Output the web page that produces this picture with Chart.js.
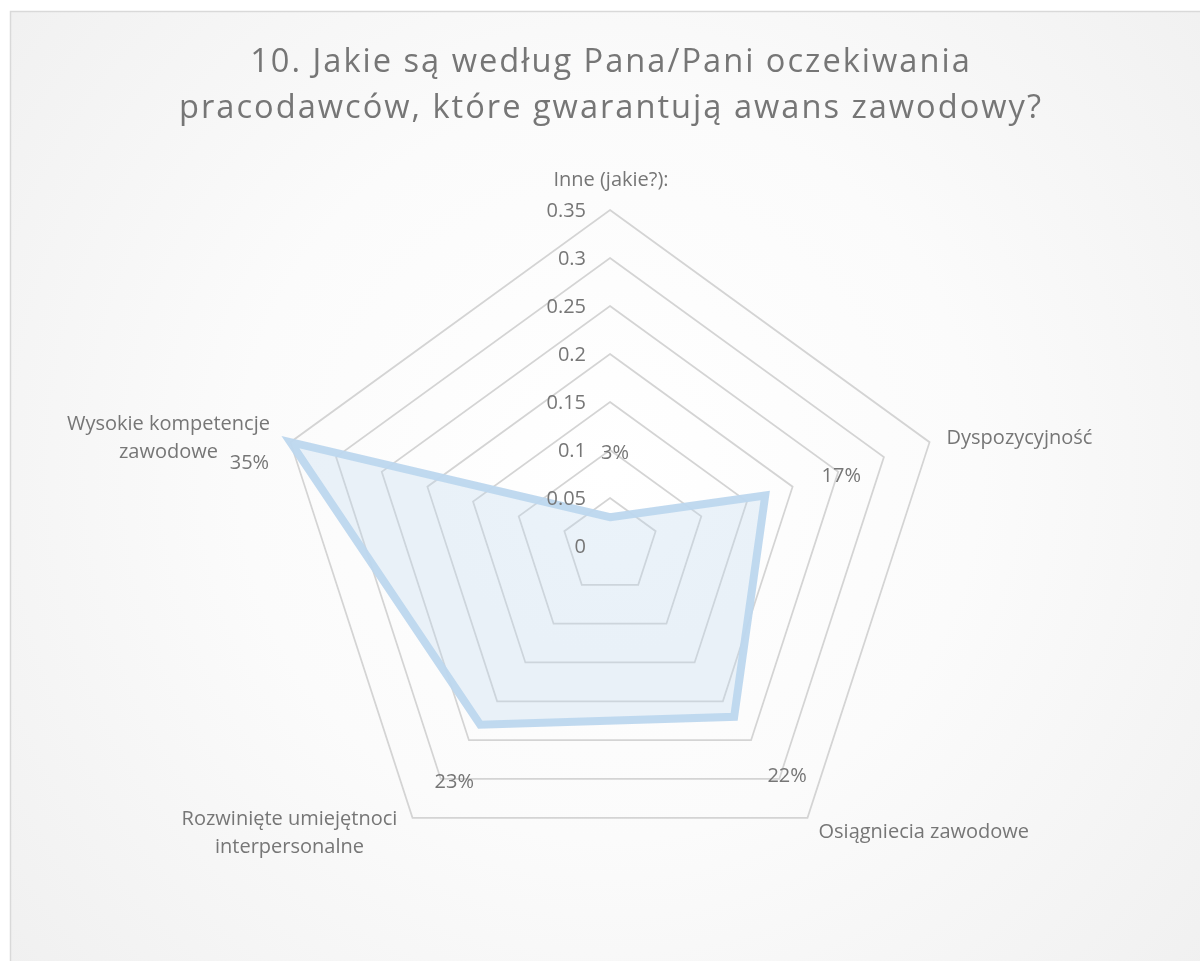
<!DOCTYPE html>
<html><head><meta charset="utf-8">
<script src="https://cdn.jsdelivr.net/npm/chart.js@4.4.1/dist/chart.umd.min.js"></script>
<style>html,body{margin:0;padding:0;background:#fff;overflow:hidden}#wrap{position:absolute;left:0;top:0;width:1200px;height:961px}</style>
</head><body><div id="wrap"><canvas id="c" width="1200" height="961"></canvas></div>
<script>
// ---- data ----
const titleLines = ['10. Jakie są według Pana/Pani oczekiwania', 'pracodawców, które gwarantują awans zawodowy?'];
const categories = [['Inne (jakie?):'], ['Dyspozycyjność'], ['Osiągniecia zawodowe'], ['Rozwinięte umiejętnoci', 'interpersonalne'], ['Wysokie kompetencje', 'zawodowe']];
const values = [0.03, 0.17, 0.22, 0.23, 0.35];
const valueLabels = ['3%', '17%', '22%', '23%', '35%'];
const tickLabels = ['0', '0.05', '0.1', '0.15', '0.2', '0.25', '0.3', '0.35'];

// ---- layout / style ----
const TEXT = '#767676';
const FONT = '"Open Sans", "DejaVu Sans", sans-serif';
const LABEL_SIZE = 20;
const pointLabelOffsets = [
  {dx: 1, dy: -30, align: 'center'},
  {dx: 17, dy: -4, align: 'left'},
  {dx: 11, dy: 14, align: 'left'},
  {dx: -123, dy: 1, align: 'center'},
  {dx: -122, dy: -18, align: 'center'}
];
const valueLabelOffsets = [[5, -64], [76, -19], [53, 59], [-26, 58], [-41, 21]];

const decor = {
  id: 'decor',
  beforeDraw(chart) {
    const ctx = chart.ctx;
    ctx.save();
    ctx.fillStyle = '#ffffff';
    ctx.fillRect(0, 0, 1200, 961);
    const g = ctx.createRadialGradient(610, 470, 0, 610, 470, 820);
    g.addColorStop(0, '#ffffff');
    g.addColorStop(0.45, '#fbfbfb');
    g.addColorStop(1, '#efefef');
    ctx.fillStyle = g;
    ctx.fillRect(10, 11, 1190, 950);
    ctx.strokeStyle = '#d9d9d9';
    ctx.lineWidth = 1.5;
    ctx.beginPath();
    ctx.moveTo(10.5, 970);
    ctx.lineTo(10.5, 11.5);
    ctx.lineTo(1210, 11.5);
    ctx.stroke();
    // title (letter-spaced, fitted to the reference width)
    const sp = 2;
    ctx.letterSpacing = sp + 'px';
    ctx.font = '100px ' + FONT;
    ctx.letterSpacing = '0px';
    const w = ctx.measureText(titleLines[1]).width;
    const size = 100 * (864 - sp * titleLines[1].length) / w;
    ctx.font = size.toFixed(2) + 'px ' + FONT;
    ctx.letterSpacing = sp + 'px';
    ctx.fillStyle = TEXT;
    ctx.textAlign = 'center';
    ctx.textBaseline = 'middle';
    ctx.fillText(titleLines[0], 610 + sp / 2, 63);
    ctx.fillText(titleLines[1], 610 + sp / 2, 109);
    ctx.letterSpacing = '0px';
    ctx.restore();
  },
  afterDraw(chart) {
    const ctx = chart.ctx;
    const s = chart.scales.r;
    ctx.save();
    ctx.fillStyle = TEXT;
    ctx.font = LABEL_SIZE + 'px ' + FONT;
    ctx.textBaseline = 'middle';
    // tick labels
    ctx.textAlign = 'right';
    s.ticks.forEach((t, i) => {
      const d = s.getDistanceFromCenterForValue(t.value);
      ctx.fillText(tickLabels[i], s.xCenter - 24, s.yCenter - d + 1);
    });
    // point labels
    categories.forEach((lines, i) => {
      const p = s.getPointPositionForValue(i, s.max);
      const o = pointLabelOffsets[i];
      ctx.textAlign = o.align;
      lines.forEach((ln, k) => ctx.fillText(ln, p.x + o.dx, p.y + o.dy + k * 28));
    });
    // value labels
    ctx.textAlign = 'center';
    const meta = chart.getDatasetMeta(0);
    meta.data.forEach((el, i) => {
      ctx.fillText(valueLabels[i], el.x + valueLabelOffsets[i][0], el.y + valueLabelOffsets[i][1]);
    });
    ctx.restore();
  }
};

new Chart(document.getElementById('c'), {
  type: 'radar',
  data: {
    labels: categories,
    datasets: [{
      data: values,
      borderColor: 'rgba(189,215,238,0.95)',
      backgroundColor: 'rgba(189,215,238,0.3)',
      borderWidth: 8,
      borderJoinStyle: 'miter',
      fill: true,
      tension: 0,
      pointRadius: 0,
      pointHoverRadius: 0
    }]
  },
  options: {
    responsive: false,
    devicePixelRatio: 1,
    animation: false,
    layout: {padding: {left: 274, right: 254, top: 210, bottom: 79}},
    plugins: {legend: {display: false}, title: {display: false}, tooltip: {enabled: false}},
    scales: {
      r: {
        min: 0, max: 0.35,
        ticks: {stepSize: 0.05, display: false},
        pointLabels: {display: false},
        angleLines: {display: false},
        grid: {color: '#d4d4d4', lineWidth: 1.75, circular: false}
      }
    }
  },
  plugins: [decor]
});
</script>
</body></html>
